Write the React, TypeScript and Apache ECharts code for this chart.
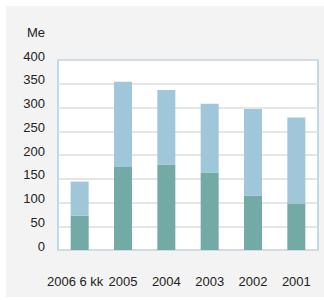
import React, { useEffect, useRef } from "react";
import * as echarts from "echarts";

const categories = ["2006 6 kk", "2005", "2004", "2003", "2002", "2001"];
const lowerValues = [72, 175, 180, 163, 115, 98];
const upperValues = [72, 179, 157, 145, 182, 181];
const yTicks = { min: 0, max: 400, interval: 50 };
const unitLabel = "Me";

const FONT = "'Liberation Sans', Arial, sans-serif";

export default function App() {
  const ref = useRef<HTMLDivElement>(null);
  useEffect(() => {
    if (!ref.current) return;
    const chart = echarts.init(ref.current, undefined, { renderer: "svg" });
    const catData = categories.map((c, i) =>
      i === 0 ? { value: c, textStyle: { padding: [0, 9, 0, 0] } } : c
    );
    chart.setOption({
      animation: false,
      backgroundColor: "#ffffff",
      textStyle: { fontFamily: FONT },
      graphic: [
        {
          type: "rect",
          z: -10,
          silent: true,
          shape: { x: 6, y: 6, width: 318, height: 291 },
          style: { fill: "#f3f3f3" },
        },
        {
          type: "text",
          x: 45,
          y: 32,
          style: {
            text: unitLabel,
            fontSize: 13,
            fontFamily: FONT,
            fill: "#222",
            align: "right",
            verticalAlign: "middle",
          },
        },
      ],
      grid: {
        left: 58,
        top: 60,
        width: 260,
        height: 190,
        show: true,
        backgroundColor: "#ffffff",
        borderColor: "#a6d1e8",
        borderWidth: 1.5,
      },
      xAxis: {
        type: "category",
        data: catData,
        axisLine: { show: false },
        axisTick: { show: false },
        axisLabel: {
          fontSize: 13,
          color: "#222",
          fontFamily: FONT,
          margin: 25,
          interval: 0,
        },
      },
      yAxis: {
        type: "value",
        min: yTicks.min,
        max: yTicks.max,
        interval: yTicks.interval,
        axisLine: { show: false },
        axisTick: { show: false },
        splitLine: { lineStyle: { color: "#dcdcdc", width: 1.5 } },
        axisLabel: {
          fontSize: 13,
          color: "#222",
          fontFamily: FONT,
          margin: 13,
          verticalAlign: "bottom",
          lineHeight: 8,
        },
      },
      series: [
        {
          type: "bar",
          stack: "total",
          data: lowerValues,
          barWidth: 18,
          itemStyle: { color: "#74aaa6" },
        },
        {
          type: "bar",
          stack: "total",
          data: upperValues,
          barWidth: 18,
          itemStyle: { color: "#9fc6d9" },
        },
      ],
    });
    return () => chart.dispose();
  }, []);
  return (
    <div
      ref={ref}
      style={{ position: "absolute", left: 0, top: 0, width: 324, height: 300 }}
    />
  );
}
